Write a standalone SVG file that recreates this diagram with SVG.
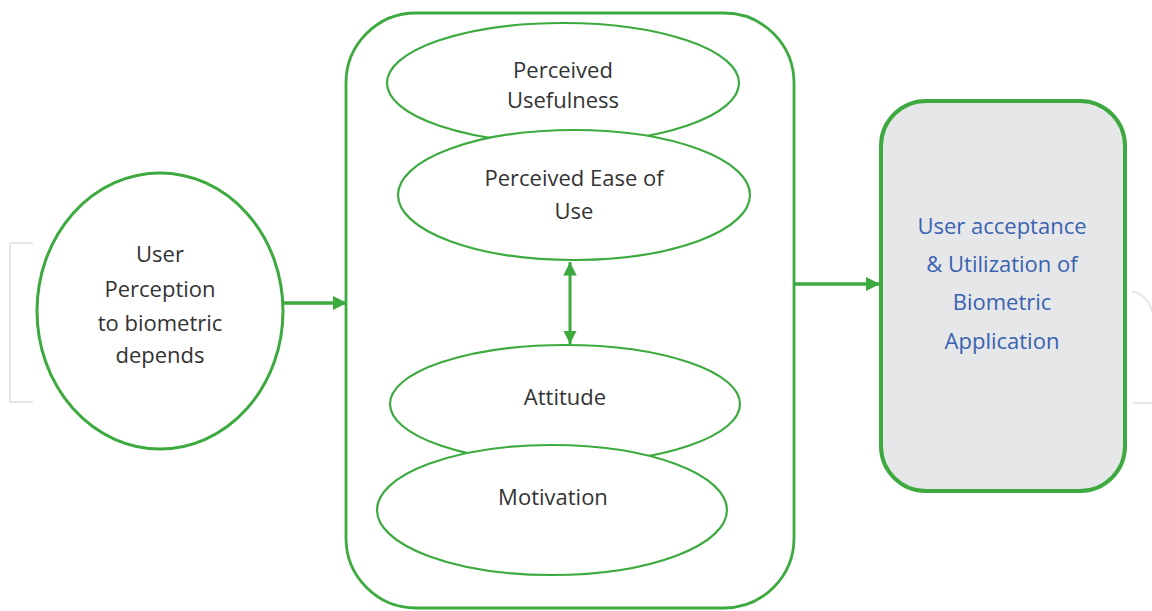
<svg xmlns="http://www.w3.org/2000/svg" width="1152" height="611" viewBox="0 0 1152 611">
  <defs>
    <style>
      .node { fill: #ffffff; stroke: #3daa3f; stroke-width: 2.2; }
      .t { font-family: "Open Sans", "Liberation Sans", sans-serif; font-size: 22px; fill: #333333; text-anchor: middle; }
      .tb { font-family: "Open Sans", "Liberation Sans", sans-serif; font-size: 22px; fill: #3a62b0; text-anchor: middle; }
      .conn { stroke: #3daa3f; fill: none; }
      .wm { stroke: #e6e6e6; stroke-width: 2; fill: none; }
    </style>
    <marker id="ah" viewBox="0 0 10 10" refX="10" refY="5" markerWidth="4" markerHeight="4" markerUnits="strokeWidth" orient="auto-start-reverse">
      <path d="M0,0 L10,5 L0,10 Z" fill="#3daa3f"/>
    </marker>
    <marker id="ah2" viewBox="0 0 10 10" refX="10" refY="5" markerWidth="4.5" markerHeight="4.5" markerUnits="strokeWidth" orient="auto-start-reverse">
      <path d="M0,0 L10,5 L0,10 Z" fill="#3daa3f"/>
    </marker>
  </defs>
  <rect width="1152" height="611" fill="#ffffff"/>

  <g id="watermark">
    <path class="wm" d="M33,243 H10 V402 H33"/>
    <path class="wm" d="M1132,291 Q1149,296 1152,312"/>
    <path class="wm" d="M1133,403 H1152"/>
  </g>

  <g id="user-perception">
    <ellipse cx="160" cy="311" rx="123" ry="138" fill="#ffffff" stroke="#3daa3f" stroke-width="3"/>
    <text class="t" x="160" y="262">User</text>
    <text class="t" x="160" y="297">Perception</text>
    <text class="t" x="160" y="331">to biometric</text>
    <text class="t" x="160" y="363">depends</text>
  </g>

  <g id="factors">
    <rect x="346" y="13" width="448" height="595" rx="70" ry="70" fill="#ffffff" stroke="#3daa3f" stroke-width="2.8"/>
  </g>

  <g id="perceived-usefulness">
    <ellipse class="node" cx="563" cy="83" rx="176" ry="60"/>
    <text class="t" x="563" y="78">Perceived</text>
    <text class="t" x="563" y="108">Usefulness</text>
  </g>

  <g id="perceived-ease">
    <ellipse class="node" cx="574" cy="195" rx="176" ry="65"/>
    <text class="t" x="574" y="186">Perceived Ease of</text>
    <text class="t" x="574" y="219">Use</text>
  </g>

  <g id="attitude">
    <ellipse class="node" cx="565" cy="404" rx="175" ry="59"/>
    <text class="t" x="565" y="405">Attitude</text>
  </g>

  <g id="motivation">
    <ellipse class="node" cx="552" cy="510" rx="175" ry="65"/>
    <text class="t" x="553" y="505">Motivation</text>
  </g>

  <g id="user-acceptance">
    <rect x="881" y="101" width="244" height="390" rx="45" ry="45" fill="#e6e7e9" stroke="#3daa3f" stroke-width="4"/>
    <text class="tb" x="1002" y="234">User acceptance</text>
    <text class="tb" x="1002" y="272">&amp; Utilization of</text>
    <text class="tb" x="1002" y="310">Biometric</text>
    <text class="tb" x="1002" y="349">Application</text>
  </g>

  <g id="connectors">
    <line class="conn" x1="284" y1="303" x2="347" y2="303" stroke-width="3.5" marker-end="url(#ah)"/>
    <line class="conn" x1="795" y1="284" x2="880" y2="284" stroke-width="3.5" marker-end="url(#ah)"/>
    <line class="conn" x1="570" y1="262" x2="570" y2="344" stroke-width="3" marker-start="url(#ah2)" marker-end="url(#ah2)"/>
  </g>
</svg>
